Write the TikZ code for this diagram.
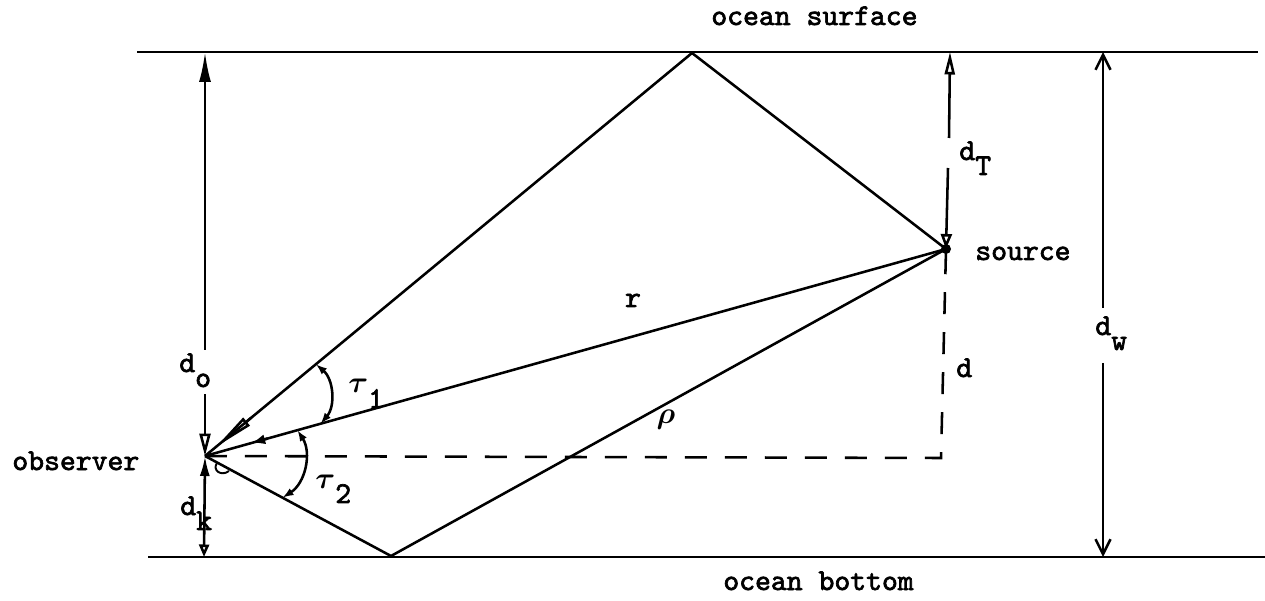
\documentclass[tikz,border=0pt]{standalone}
\usepackage{fontspec}
\newfontfamily\typew{lmmono10-regular.otf}[FakeBold=2.2]
\usetikzlibrary{arrows.meta,calc}
\newcommand{\lowsub}[1]{\raisebox{-0.3cm}{#1}}
\newcommand{\grk}[1]{\mbox{\boldmath$#1$}}

\begin{document}
\begin{tikzpicture}[
  x=0.02cm, y=-0.02cm,
  ray/.style={line width=1.45pt},
  level/.style={line width=1.7pt},
  dashln/.style={line width=1.45pt, dash pattern=on 0.44cm off 0.36cm},
  dimarr/.style={line width=1.45pt},
  anglearr/.style={line width=1.45pt, {Latex[length=0.22cm,width=0.16cm]}-{Latex[length=0.22cm,width=0.16cm]}},
  lbl/.style={inner sep=0pt, anchor=base west, font=\typew\fontsize{17.2}{20}\selectfont}
]
  \useasboundingbox (0,0) rectangle (1265,601);

  % surface and bottom of the water
  \coordinate (surf w) at (137,52);
  \coordinate (surf e) at (1258,52);
  \coordinate (bot w) at (148,557);
  \coordinate (bot e) at (1265,557);
  \draw[level] (surf w) -- (surf e);
  \draw[level] (bot w) -- (bot e);
  \node[lbl] (surflbl) at (711,25) {ocean surface};
  \node[lbl] (botlbl) at (723,590) {ocean bottom};

  % observer, source and the reflection points
  \coordinate (obs) at (205,456);
  \coordinate (src) at (946,249);
  \coordinate (refl top) at (692,53);
  \coordinate (refl bot) at (391,556);
  \coordinate (corner) at (941,458);
  \node[lbl] (obslbl) at (12,470) {observer};
  \node[lbl] (srclbl) at (975,260) {source};
  \fill (src) circle (0.1cm);

  % the three paths
  \draw[ray] (obs) -- (refl top) -- (src);
  \draw[ray] (obs) -- (src);
  \draw[ray] (obs) -- (refl bot) -- (src);
  \draw[dashln] (obs) -- (corner) -- (src);
  \draw[ray, -{Triangle[open,length=0.8cm,width=0.2cm]}] ($(obs)!1.2cm!(refl top)$) -- ($(obs)!0.28cm!(refl top)$);
  \draw[ray, -{Latex[length=0.28cm,width=0.2cm]}] ($(obs)!1.3cm!(src)$) -- ($(obs)!0.96cm!(src)$);
  \draw[line width=1.1pt] (217,463) .. controls (212,470) and (221,477) .. (229,471);
  \node[lbl, anchor=base] (rlbl) at (633,307) {r};
  \node[lbl, anchor=base] (rholbl) at (666,423) {\grk{\rho}};

  % angles
  \coordinate (t1 a) at ($(obs)!2.88cm!(refl top)$);
  \coordinate (t1 b) at ($(obs)!2.4cm!(src)$);
  \coordinate (t2 a) at ($(obs)!1.92cm!(src)$);
  \coordinate (t2 b) at ($(obs)!1.76cm!(refl bot)$);
  \draw[anglearr] (t1 a) to[bend left=45] (t1 b);
  \draw[anglearr] (t2 a) to[bend left=45] (t2 b);
  \node[lbl] (t1lbl) at (348,393) {\grk{\tau}\lowsub{1}};
  \node[lbl] (t2lbl) at (315,488) {\grk{\tau}\lowsub{2}};

  % depths
  \coordinate (do top) at (205,52);
  \coordinate (do a) at (205,350);
  \coordinate (do b) at (205,394);
  \draw[dimarr, -{Latex[length=0.6cm,width=0.24cm]}] (do a) -- (do top);
  \draw[dimarr, -{Triangle[open,length=0.45cm,width=0.22cm]}] (do b) -- (obs);
  \node[lbl] (dolbl) at (179,372) {d\lowsub{o}};

  \coordinate (dk bot) at (204,557);
  \draw[dimarr, {Triangle[open,length=0.25cm,width=0.2cm]}-{Latex[length=0.4cm,width=0.2cm]}] (dk bot) -- (obs);
  \node[lbl] (dklbl) at (180,515) {d\lowsub{k}};

  \coordinate (dt top) at (950,52);
  \coordinate (dt a) at (949,138);
  \coordinate (dt b) at (948,168);
  \draw[dimarr, -{Triangle[open,length=0.45cm,width=0.2cm]}] (dt a) -- (dt top);
  \draw[dimarr, -{Triangle[open,length=0.3cm,width=0.22cm]}] (dt b) -- (src);
  \node[lbl] (dtlbl) at (959,160) {d\lowsub{T}};

  \coordinate (dw top) at (1103,52);
  \coordinate (dw a) at (1103,308);
  \coordinate (dw b) at (1103,363);
  \coordinate (dw bot) at (1103,557);
  \draw[dimarr, -{Straight Barb[length=0.3cm,width=0.3cm]}] (dw a) -- (dw top);
  \draw[dimarr, -{Straight Barb[length=0.3cm,width=0.3cm]}] (dw b) -- (dw bot);
  \node[lbl] (dwlbl) at (1095,335) {d\lowsub{w}};

  \node[lbl] (dlbl) at (956,377) {d};
\end{tikzpicture}
\end{document}
